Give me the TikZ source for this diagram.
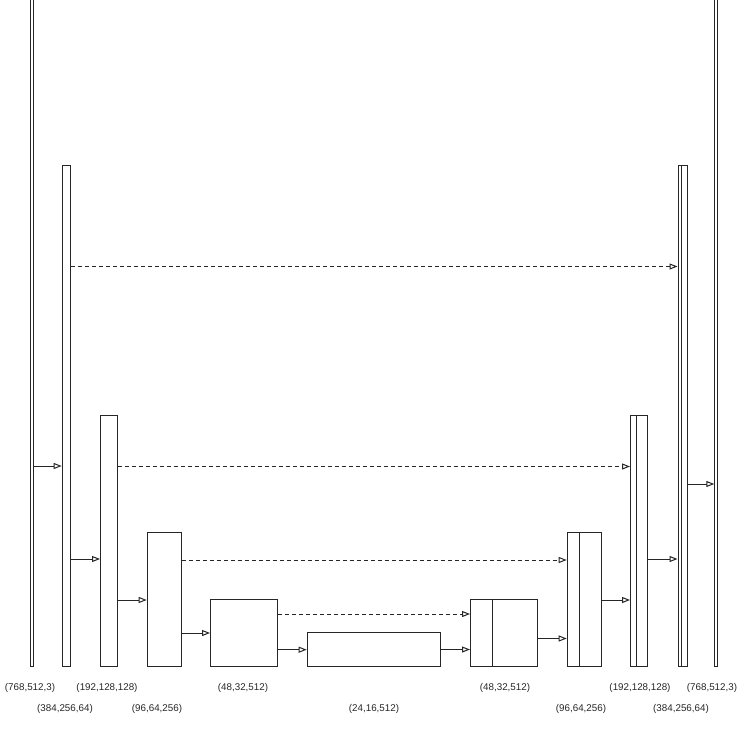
\documentclass[tikz,border=0pt]{standalone}
\usepackage{fontspec}
\setmainfont{Liberation Sans}
\usetikzlibrary{arrows.meta}
\tikzset{
  bar/.style={draw=black!85, line width=1pt, inner sep=0pt, anchor=south west, fill=white},
  arr/.style={draw=black!85, line width=1pt, -{Triangle[open, length=8pt, width=6pt]}},
  skip/.style={arr, dash pattern=on 4pt off 3pt},
  lbl/.style={font=\fontsize{9.8pt}{11pt}\selectfont, text=black!85, inner sep=0pt}
}
\begin{document}
\begin{tikzpicture}[x=1pt, y=-1pt]
\useasboundingbox (0,0) rectangle (747,730);
% encoder bars
\node[bar, minimum width=3.5pt, minimum height=666.5pt] (b1) at (29.5,667) {};
\node[bar, minimum width=8.3pt, minimum height=501pt] (b2) at (61.7,667) {};
\node[bar, minimum width=16.7pt, minimum height=251pt] (b3) at (100,667) {};
\node[bar, minimum width=33.8pt, minimum height=134pt] (b4) at (146.7,667) {};
\node[bar, minimum width=67pt, minimum height=67.5pt] (b5) at (210,667) {};
\node[bar, minimum width=133.3pt, minimum height=34pt] (b6) at (306.7,667) {};
% decoder bars
\node[bar, minimum width=22.3pt, minimum height=67.5pt] (r5a) at (470,667) {};
\node[bar, minimum width=45pt, minimum height=67.5pt] (r5b) at (492.3,667) {};
\node[bar, minimum width=12pt, minimum height=134pt] (r4a) at (566.7,667) {};
\node[bar, minimum width=22.3pt, minimum height=134pt] (r4b) at (578.7,667) {};
\node[bar, minimum width=5.7pt, minimum height=251pt] (r3a) at (630,667) {};
\node[bar, minimum width=11.6pt, minimum height=251pt] (r3b) at (635.7,667) {};
\node[bar, minimum width=3.2pt, minimum height=501pt] (r2a) at (677.5,667) {};
\node[bar, minimum width=5.8pt, minimum height=501pt] (r2b) at (680.7,667) {};
\node[bar, minimum width=2.7pt, minimum height=666.5pt] (r1) at (714.3,667) {};
% solid connectors
\draw[arr] (b1.east |- 0,466) -- (b2.west |- 0,466);
\draw[arr] (b2.east |- 0,559) -- (b3.west |- 0,559);
\draw[arr] (b3.east |- 0,600) -- (b4.west |- 0,600);
\draw[arr] (b4.east |- 0,633) -- (b5.west |- 0,633);
\draw[arr] (b5.east |- 0,649.7) -- (b6.west |- 0,649.7);
\draw[arr] (b6.east |- 0,649.5) -- (r5a.west |- 0,649.5);
\draw[arr] (r5b.east |- 0,638.5) -- (r4a.west |- 0,638.5);
\draw[arr] (r4b.east |- 0,600) -- (r3a.west |- 0,600);
\draw[arr] (r3b.east |- 0,559) -- (r2a.west |- 0,559);
\draw[arr] (r2b.east |- 0,484) -- (r1.west |- 0,484);
% skip connectors
\draw[skip] (b2.east |- 0,266.5) -- (r2a.west |- 0,266.5);
\draw[skip] (b3.east |- 0,466.5) -- (r3a.west |- 0,466.5);
\draw[skip] (b4.east |- 0,560) -- (r4a.west |- 0,560);
\draw[skip] (b5.east |- 0,614) -- (r5a.west |- 0,614);
% labels
\node[lbl] (l1) at (30,688) {(768,512,3)};
\node[lbl] (l2) at (65,709) {(384,256,64)};
\node[lbl] (l3) at (107,688) {(192,128,128)};
\node[lbl] (l4) at (157,709) {(96,64,256)};
\node[lbl] (l5) at (243,688) {(48,32,512)};
\node[lbl] (l6) at (374,709) {(24,16,512)};
\node[lbl] (l7) at (505,688) {(48,32,512)};
\node[lbl] (l8) at (581,709) {(96,64,256)};
\node[lbl] (l9) at (640,688) {(192,128,128)};
\node[lbl] (l10) at (681,709) {(384,256,64)};
\node[lbl] (l11) at (712,688) {(768,512,3)};
\end{tikzpicture}
\end{document}
